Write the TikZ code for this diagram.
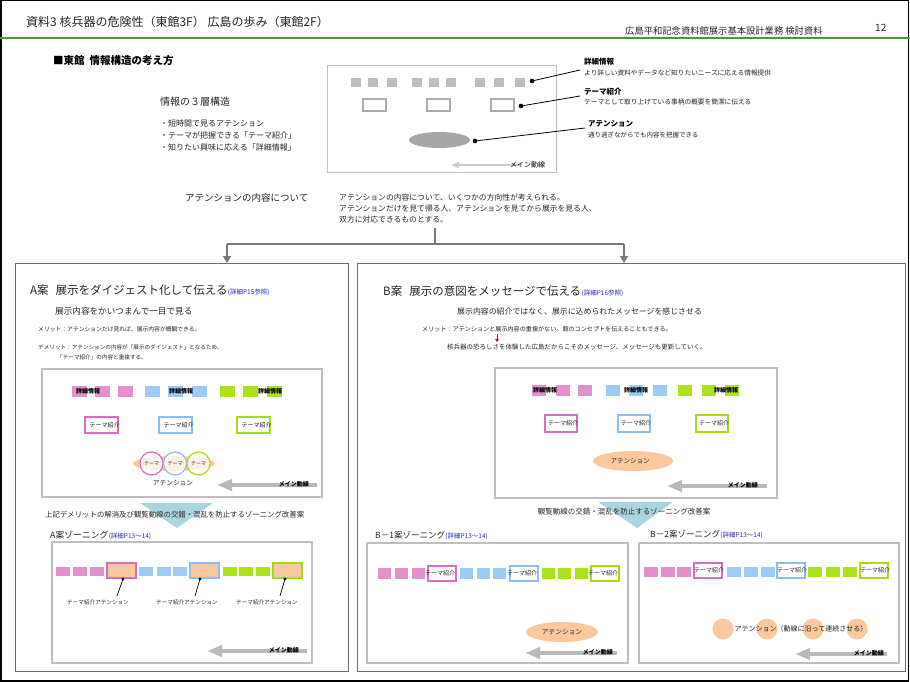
\documentclass[tikz,border=0pt]{standalone}
\usepackage{fontspec}
\setmainfont{Noto Sans CJK JP}
\usetikzlibrary{arrows.meta}
\definecolor{headgreen}{RGB}{76,150,64}
\definecolor{panelgray}{RGB}{110,110,110}
\definecolor{softgray}{RGB}{190,190,190}
\newcommand{\fsz}[1]{\fontsize{#1}{#1}\selectfont}

\begin{document}
\begin{tikzpicture}[x=1pt,y=-1pt,
    txt/.style={anchor=west,inner sep=0pt,text=black!85},
    ctxt/.style={inner sep=0pt,text=black!85},
    panel/.style={draw=panelgray,line width=1pt},
    inner/.style={draw=softgray,line width=1.4pt},
    flowline/.style={draw=gray!95!black,line width=2.2pt},
    mainflow/.style={draw=gray!55,line width=4pt,-{Triangle[length=15pt,width=11pt]}},
    flowtext/.style={anchor=east,inner sep=0pt,text=black,font=\bfseries\fsz{6}},
    refnote/.style={anchor=base west,inner sep=0pt,text=refblue,font=\fsz{6.5}}]
    % Define colors for the zones
    \definecolor{zonepink}{RGB}{226,145,204}
    \definecolor{zoneblue}{RGB}{155,203,246}
    \definecolor{zonegreen}{RGB}{172,226,28}
    \definecolor{pinkedge}{RGB}{216,108,190}
    \definecolor{blueedge}{RGB}{140,190,240}
    \definecolor{greenedge}{RGB}{165,220,20}
    \definecolor{attorange}{RGB}{250,200,158}
    \definecolor{refblue}{RGB}{40,40,190}
    \definecolor{funnelblue}{RGB}{170,213,224}

    % Page and frame
    \useasboundingbox (0,0) rectangle (910,682);
    \fill[white] (0,0) rectangle (910,682);
    \draw[black,line width=1.5pt] (0.75,0.75) rectangle (908.5,681);

    % Header
    \node[txt,font=\fsz{12}] (title) at (26,22) {資料3 核兵器の危険性（東館3F） 広島の歩み（東館2F）};
    \node[txt,font=\fsz{9.3}] (project) at (625,31) {広島平和記念資料館展示基本設計業務 検討資料};
    \node[txt,font=\fsz{10}] (pageno) at (875,28) {12};
    \draw[headgreen,line width=2pt] (0,38) -- (910,38);

    % Three layer structure
    \node[txt,font=\bfseries\fsz{10.5},text=black] (section) at (53,61) {■東館\hspace{5pt}情報構造の考え方};
    \node[txt,font=\fsz{10}] (layers) at (160,102) {情報の３層構造};
    \foreach \txtline [count=\i] in {・短時間で見るアテンション,・テーマが把握できる「テーマ紹介」,・知りたい興味に応える「詳細情報」}
        \node[txt,font=\fsz{8}] (bullet\i) at (160,111+12*\i) {\txtline};

    \draw[softgray,line width=1pt] (327,66) rectangle (556,172);
    \foreach \x in {351,368,387,412,429,446,475,494,515}
        \fill[softgray] (\x,78) rectangle ++(10,9);
    \foreach \x in {363,427,491}
        \draw[gray!65,line width=2pt] (\x,99) rectangle ++(23,12);
    \fill[gray!70] (439.5,140) ellipse [x radius=30.5pt,y radius=8pt];

    \coordinate (dotdetail) at (532,81);
    \coordinate (dottheme) at (521,106);
    \coordinate (dotatt) at (475,141);
    \coordinate (tipdetail) at (580,70);
    \coordinate (tiptheme) at (580,96);
    \coordinate (tipatt) at (585,128);
    \foreach \d in {detail,theme,att} {
        \fill (dot\d) circle (2.3pt);
        \draw[line width=0.8pt] (dot\d) -- (tip\d);
    }
    \node[txt,font=\bfseries\fsz{7.5},text=black] (lbldetail) at (584,62) {詳細情報};
    \node[txt,font=\fsz{6.7}] (subdetail) at (584,73) {より詳しい資料やデータなど知りたいニーズに応える情報提供};
    \node[txt,font=\bfseries\fsz{7.5},text=black] (lbltheme) at (584,92) {テーマ紹介};
    \node[txt,font=\fsz{6.7}] (subtheme) at (584,102) {テーマとして取り上げている事柄の概要を簡潔に伝える};
    \node[txt,font=\bfseries\fsz{7.5},text=black] (lblatt) at (588,124) {アテンション};
    \node[txt,font=\fsz{6.5}] (subatt) at (588,135) {通り過ぎながらでも内容を把握できる};

    \coordinate (topflowtail) at (520,165);
    \coordinate (topflowhead) at (451,165);
    \draw[gray!40,line width=1.8pt,-{Triangle[length=8pt,width=6pt]}] (topflowtail) -- (topflowhead);
    \node[txt,font=\fsz{7},text=black] (topflow) at (510,165) {メイン動線};

    % Attention contents
    \node[txt,font=\fsz{9.5}] (aboutatt) at (185,198) {アテンションの内容について};
    \node[txt,font=\fsz{7.8}] (aboutline1) at (339,198) {アテンションの内容について、いくつかの方向性が考えられる。};
    \node[txt,font=\fsz{7.8}] (aboutline2) at (339,209) {アテンションだけを見て帰る人、アテンションを見てから展示を見る人、};
    \node[txt,font=\fsz{7.8}] (aboutline3) at (339,220) {双方に対応できるものとする。};

    % Split into plan A and plan B
    \coordinate (splittop) at (435,228);
    \coordinate (splitmid) at (435,244);
    \coordinate (armA) at (227,244);
    \coordinate (armB) at (624,244);
    \coordinate (entryA) at (227,263);
    \coordinate (entryB) at (624,263);
    \draw[flowline] (splittop) -- (splitmid);
    \draw[flowline] (armA) -- (armB);
    \draw[flowline,-{Triangle[length=7pt,width=8pt]}] (armA) -- (entryA);
    \draw[flowline,-{Triangle[length=7pt,width=8pt]}] (armB) -- (entryB);

    \draw[panel] (15,263) rectangle (348,671);
    \draw[panel] (357,263) rectangle (905,671);

    % Plan A
    \node[txt,font=\fsz{11.5}] (planA) at (30,290) {A案\hspace{7pt}展示をダイジェスト化して伝える};
    \node[refnote] (planAref) at (planA.base east) {(詳細P15参照)};
    \node[txt,font=\fsz{8.6}] (digestA) at (55,311) {展示内容をかいつまんで一目で見る};
    \node[txt,font=\fsz{5.8}] (meritA) at (38,329) {メリット：アテンションだけ見れば、展示内容が概観できる。};
    \node[txt,font=\fsz{5.6}] (demeritA) at (38,347) {デメリット：アテンションの内容が「展示のダイジェスト」となるため、};
    \node[txt,font=\fsz{5.6}] (demeritAb) at (57,357) {「テーマ紹介」の内容と重複する。};

    \draw[inner] (42,369) rectangle (322,497);
    \foreach \x/\c in {72/zonepink,95/zonepink,118/zonepink,145/zoneblue,168/zoneblue,192/zoneblue,220/zonegreen,243/zonegreen,267/zonegreen}
        \fill[\c] (\x,386) rectangle ++(15,11);
    \foreach \x [count=\n] in {88,181,270}
        \node[ctxt,font=\bfseries\fsz{6},text=black] (detailA\n) at (\x,391.5) {詳細情報};
    \foreach \x/\c [count=\n] in {85/pinkedge,159/blueedge,237/greenedge} {
        \draw[\c,line width=1.5pt,fill=white] (\x,417) rectangle ++(33,16);
        \node[ctxt,font=\fsz{6}] (themeA\n) at (\x+19.5,425) {テーマ紹介};
    }
    \fill[attorange] (174,463.5) ellipse [x radius=41pt,y radius=7.5pt];
    \foreach \x/\c [count=\n] in {151.5/pinkedge,175/blueedge,198.5/greenedge} {
        \draw[\c,line width=1.2pt,fill=white,fill opacity=0.75] (\x,463.5) circle (11.5pt);
        \node[ctxt,font=\fsz{5}] (ringA\n) at (\x,463.5) {テーマ};
    }
    \node[ctxt,font=\fsz{6.7}] (attA) at (173,483) {アテンション};
    \coordinate (flowAtail) at (317,485);
    \coordinate (flowAhead) at (217,485);
    \draw[mainflow] (flowAtail) -- (flowAhead);
    \node[flowtext] (flowA) at (309,484) {メイン動線};

    \fill[funnelblue] (140,503) -- (213,503) -- (177,528) -- cycle;
    \node[txt,font=\fsz{7.4}] (remedyA) at (45,515) {上記デメリットの解消及び観覧動線の交錯・混乱を防止するゾーニング改善案};

    % Plan A zoning
    \node[txt,font=\fsz{8.8}] (zoneAtitle) at (50,535) {A案ゾーニング};
    \node[refnote] (zoneAref) at (zoneAtitle.base east) {(詳細P13～14)};
    \draw[inner] (52,542) rectangle (312,663);
    \foreach \x/\c in {56/zonepink,73/zonepink,90/zonepink,139/zoneblue,157/zoneblue,173/zoneblue,223/zonegreen,239/zonegreen,256/zonegreen}
        \fill[\c] (\x,567) rectangle ++(14,9);
    \foreach \x/\c in {107/pinkedge,190/blueedge,273/greenedge}
        \draw[\c,line width=1.3pt,fill=attorange] (\x,563) rectangle ++(29,15);
    \foreach \dx/\lx/\ex [count=\n] in {123/98/117,200/187/195,285/267/280} {
        \coordinate (zoneAdot\n) at (\dx,579);
        \coordinate (zoneAtip\n) at (\ex,596);
        \node[ctxt,font=\fsz{5.6}] (zoneAlabel\n) at (\lx,602) {テーマ紹介アテンション};
        \fill (zoneAdot\n) circle (1.6pt);
        \draw[line width=0.7pt] (zoneAdot\n) -- (zoneAtip\n);
    }
    \coordinate (flowZAtail) at (307,651);
    \coordinate (flowZAhead) at (207,651);
    \draw[mainflow] (flowZAtail) -- (flowZAhead);
    \node[flowtext] (flowZA) at (299,650) {メイン動線};

    % Plan B
    \node[txt,font=\fsz{11.5}] (planB) at (383,291) {B案\hspace{7pt}展示の意図をメッセージで伝える};
    \node[refnote] (planBref) at (planB.base east) {(詳細P16参照)};
    \node[txt,font=\fsz{7.9}] (messageB) at (457,311) {展示内容の紹介ではなく、展示に込められたメッセージを感じさせる};
    \node[txt,font=\fsz{6.1}] (meritB) at (422,329) {メリット：アテンションと展示内容の重複がない。館のコンセプトを伝えることもできる。};
    \coordinate (meritdown) at (497,334);
    \coordinate (meritdownend) at (497,342);
    \draw[red!85!black,line width=0.9pt,-{Triangle[length=3pt,width=3.5pt]}] (meritdown) -- (meritdownend);
    \node[txt,font=\fsz{6.5}] (hiroshimaB) at (447,347) {核兵器の恐ろしさを体験した広島だからこそのメッセージ、メッセージも更新していく。};

    \draw[inner] (495,368) rectangle (777,498);
    \foreach \x/\c in {532/zonepink,556/zonepink,578/zonepink,606/zoneblue,629/zoneblue,653/zoneblue,678/zonegreen,702/zonegreen,725/zonegreen}
        \fill[\c] (\x,385) rectangle ++(14,11);
    \foreach \x [count=\n] in {545,636,726}
        \node[ctxt,font=\bfseries\fsz{6},text=black] (detailB\n) at (\x,390.5) {詳細情報};
    \foreach \x/\c [count=\n] in {545/pinkedge,618/blueedge,696/greenedge} {
        \draw[\c,line width=1.5pt,fill=white] (\x,415) rectangle ++(32,17);
        \node[ctxt,font=\fsz{6}] (themeB\n) at (\x+18,423.5) {テーマ紹介};
    }
    \fill[attorange] (633,461) ellipse [x radius=40pt,y radius=10pt];
    \node[ctxt,font=\fsz{6.5}] (attB) at (630,461) {アテンション};
    \coordinate (flowBtail) at (767,486);
    \coordinate (flowBhead) at (667,486);
    \draw[mainflow] (flowBtail) -- (flowBhead);
    \node[flowtext] (flowB) at (758,485) {メイン動線};

    \fill[funnelblue] (598,502) -- (673,502) -- (637,528) -- cycle;
    \node[ctxt,font=\fsz{7.5}] (remedyB) at (624,512) {観覧動線の交錯・混乱を防止するゾーニング改善案};

    % Plan B-1 zoning
    \node[txt,font=\fsz{8.5}] (zoneB1title) at (375,535) {B－1案ゾーニング};
    \node[refnote] (zoneB1ref) at (zoneB1title.base east) {(詳細P13～14)};
    \draw[inner] (367,543) rectangle (628,663);
    \foreach \x/\c in {378/zonepink,395/zonepink,412/zonepink,460/zoneblue,477/zoneblue,493/zoneblue,542/zonegreen,558/zonegreen,575/zonegreen}
        \fill[\c] (\x,568) rectangle ++(13,11);
    \foreach \x/\c [count=\n] in {428/pinkedge,510/blueedge,591/greenedge} {
        \draw[\c,line width=1.3pt,fill=white] (\x,566) rectangle ++(28,15);
        \node[ctxt,font=\fsz{6}] (themeB1\n) at (\x+12,573.5) {テーマ紹介};
    }
    \fill[attorange] (562,632) ellipse [x radius=36pt,y radius=10pt];
    \node[ctxt,font=\fsz{6.7}] (attB1) at (562,632) {アテンション};
    \coordinate (flowB1tail) at (617,653);
    \coordinate (flowB1head) at (525,653);
    \draw[mainflow] (flowB1tail) -- (flowB1head);
    \node[flowtext] (flowB1) at (613,652) {メイン動線};

    % Plan B-2 zoning
    \node[txt,font=\fsz{8.5}] (zoneB2title) at (650,534) {B－2案ゾーニング};
    \node[refnote] (zoneB2ref) at (zoneB2title.base east) {(詳細P13～14)};
    \draw[inner] (639,543) rectangle (899,663);
    \foreach \x/\c in {644/zonepink,661/zonepink,677/zonepink,727/zoneblue,744/zoneblue,761/zoneblue,808/zonegreen,826/zonegreen,843/zonegreen}
        \fill[\c] (\x,567) rectangle ++(14,10);
    \foreach \x/\c [count=\n] in {694/pinkedge,777/blueedge,860/greenedge} {
        \draw[\c,line width=1.3pt,fill=white] (\x,563) rectangle ++(28,15);
        \node[ctxt,font=\fsz{6}] (themeB2\n) at (\x+15,570.5) {テーマ紹介};
    }
    \foreach \x in {723,767,813,857}
        \fill[attorange] (\x,629) circle (10.5pt);
    \node[ctxt,font=\fsz{7}] (attB2) at (801,629) {アテンション（動線に沿って連続させる）};
    \coordinate (flowB2tail) at (887,654);
    \coordinate (flowB2head) at (795,654);
    \draw[mainflow] (flowB2tail) -- (flowB2head);
    \node[flowtext] (flowB2) at (884,653) {メイン動線};

\end{tikzpicture}
\end{document}
